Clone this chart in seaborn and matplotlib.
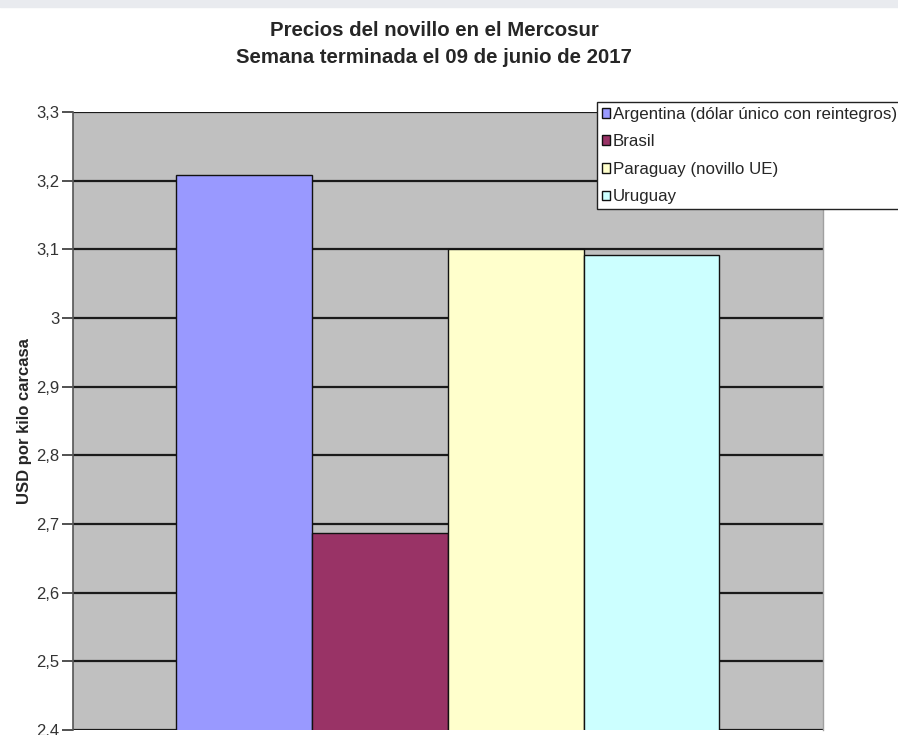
import pandas as pd
import matplotlib
matplotlib.use("Agg")
import matplotlib.pyplot as plt
from matplotlib.patches import Rectangle
import seaborn as sns

# valores (USD por kilo carcasa)
paises = ["Argentina (dólar único con reintegros)", "Brasil",
          "Paraguay (novillo UE)", "Uruguay"]
precios = [3.208, 2.687, 3.100, 3.092]
colores = ["#9999FF", "#993366", "#FFFFCC", "#CCFFFF"]
y_ticks = [2.4, 2.5, 2.6, 2.7, 2.8, 2.9, 3.0, 3.1, 3.2, 3.3]
y_labels = ["2,4", "2,5", "2,6", "2,7", "2,8", "2,9", "3", "3,1", "3,2", "3,3"]

df = pd.DataFrame({"semana": ["09/06/2017"] * len(paises),
                   "pais": paises, "precio": precios})

sns.set_style("white")
plt.rcParams["font.family"] = ["Liberation Sans", "DejaVu Sans"]

fig = plt.figure(figsize=(8.98, 7.35), dpi=100)
# faint strip at the very top of the screenshot
fig.patches.append(Rectangle((0, 0.99), 1, 0.01, transform=fig.transFigure,
                             color="#e9ebef", zorder=0))

ax = fig.add_axes([0.0813, 0.0068, 0.835, 0.8408])
ax.set_facecolor("#C0C0C0")

# gridlines first so bars sit above them
for t in y_ticks:
    ax.axhline(t, color="#1a1a1a", lw=1.6, zorder=0.5)

sns.barplot(data=df, x="semana", y="precio", hue="pais",
            palette=dict(zip(paises, colores)), width=0.724,
            edgecolor="#111111", linewidth=1.0, saturation=1,
            ax=ax, zorder=2)

ax.set_ylim(2.4, 3.3)
ax.set_xlim(-0.5, 0.5)
ax.set_yticks(y_ticks)
ax.set_yticklabels(y_labels, fontsize=12, color="#333333")
ax.tick_params(axis="y", length=8, width=1.2, color="#333333", pad=2, left=True)
ax.set_xticks([])
ax.set_xlabel("")
ax.set_ylabel("USD por kilo carcasa", fontsize=12, fontweight="bold", labelpad=3)

for side in ["top", "bottom"]:
    ax.spines[side].set_visible(False)
ax.spines["left"].set_color("#555555")
ax.spines["left"].set_linewidth(1.2)
ax.spines["right"].set_color("#a0a0a0")
ax.spines["right"].set_linewidth(1.0)

handles, labels = ax.get_legend_handles_labels()
leg = ax.legend(handles, labels, loc="upper left", bbox_to_anchor=(0.6987, 1.0167),
                fontsize=12.2, frameon=True, fancybox=False, framealpha=1,
                edgecolor="#222222", handlelength=0.5, handleheight=0.5,
                handletextpad=0.15, labelspacing=0.74, borderpad=0.3,
                borderaxespad=0)
leg.get_frame().set_linewidth(1.0)
leg.set_clip_on(False)

fig.text(0.4833, 0.9517, "Precios del novillo en el Mercosur",
         ha="center", va="baseline", fontsize=14.7, fontweight="bold")
fig.text(0.4833, 0.9143, "Semana terminada el 09 de junio de 2017",
         ha="center", va="baseline", fontsize=14.7, fontweight="bold")

fig.savefig("out.png", dpi=100)
